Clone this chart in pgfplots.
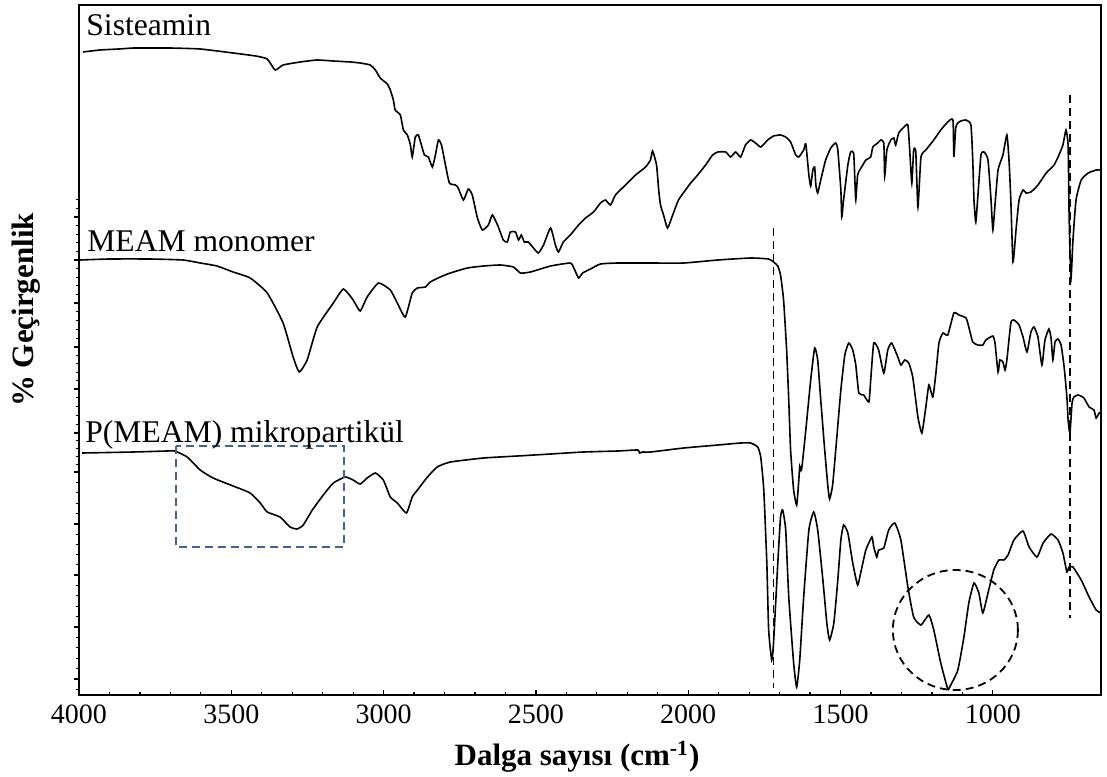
\documentclass[border=0pt]{standalone}
\usepackage{fontspec}
\setmainfont{Liberation Serif}
\usepackage{pgfplots}
\pgfplotsset{compat=1.18}
\definecolor{boxblue}{RGB}{65,100,150}
\tikzset{
  spectrum/.style={black, line width=0.8pt, smooth, tension=0.3},
  refmark/.style={line width=0.9pt, dash pattern=on 4pt off 2.5pt},
}

\begin{document}
\begin{tikzpicture}
\path[use as bounding box] (-39.5pt,-40.5pt) rectangle (514pt,347.5pt);
\begin{axis}[
  at={(0pt,0pt)}, anchor=south west,
  scale only axis, width=511pt, height=345pt,
  x dir=reverse, xmin=645, xmax=4000,
  y dir=reverse, ymin=5, ymax=695,
  xtick={1000,1500,2000,2500,3000,3500,4000},
  xticklabels={1000,1500,2000,2500,3000,3500,4000},
  minor x tick num=4,
  ytick={217,260,303,347,389,433,472,524,575,627,679},
  yticklabels={},
  minor ytick={199.8,208.4,225.6,234.2,242.8,251.4,268.6,277.2,285.8,294.4,
    311.8,320.6,329.4,338.2,355.4,363.8,372.2,380.6,397.8,406.6,415.4,424.2,
    440.8,448.6,456.4,464.2,482.4,492.8,503.2,513.6,534.2,544.4,554.6,564.8,
    585.4,595.8,606.2,616.6,637.4,647.8,658.2,668.6,689.4},
  tick pos=left, tick align=inside,
  major tick length=2.5pt, minor tick length=1.5pt,
  major y tick style={xshift=-2.5pt},
  minor y tick style={xshift=-1.5pt},
  every tick/.style={black, line width=0.6pt},
  axis line style={black, line width=1pt},
  xticklabel style={font=\fontsize{14}{16}\selectfont, yshift=-1.5pt},
]

% Sisteamin
\addplot[spectrum] coordinates {
(3987,52) (3931,50) (3870,49) (3820,48) (3760,48) (3701,48) (3602,49) (3494,53)
(3420,56) (3382,59) (3356,70) (3330,65) (3274,62) (3218,60) (3165,61) (3109,62)
(3077,63) (3044,65) (3027,70) (3011,78) (2988,84) (2978,90) (2968,100) (2962,110)
(2945,115) (2935,130) (2922,135) (2912,145) (2906,157) (2896,137) (2886,135)
(2876,145) (2866,155) (2853,157) (2840,167) (2830,155) (2820,140) (2810,145)
(2797,165) (2784,183) (2764,185) (2755,188) (2738,200) (2722,189) (2709,195)
(2692,218) (2676,230) (2656,225) (2643,215) (2626,225) (2607,240) (2594,242)
(2584,232) (2567,232) (2557,240) (2548,235) (2538,242) (2525,242) (2508,248)
(2492,253) (2475,245) (2452,228) (2436,245) (2426,252) (2410,242) (2387,235)
(2360,225) (2337,218) (2311,212) (2288,203) (2272,200) (2255,205) (2239,195)
(2206,185) (2173,175) (2140,167) (2124,160) (2117,151) (2104,165) (2097,190)
(2091,205) (2081,215) (2068,228) (2051,215) (2032,200) (2009,190) (1992,183)
(1969,175) (1943,165) (1920,155) (1903,152) (1877,152) (1861,157) (1844,152)
(1828,157) (1812,145) (1795,140) (1779,143) (1762,147) (1739,140) (1720,136)
(1697,135) (1680,137) (1664,142) (1647,155) (1637,157) (1621,150) (1614,144)
(1604,175) (1598,186) (1591,170) (1585,167) (1581,185) (1575,193) (1565,180)
(1549,160) (1532,148) (1516,143) (1509,150) (1499,190) (1496,217) (1490,200)
(1476,165) (1467,152) (1457,153) (1453,180) (1450,200) (1444,175) (1437,170)
(1427,165) (1417,160) (1401,157) (1394,147) (1378,143) (1368,140) (1358,143)
(1355,176) (1348,150) (1335,140) (1325,138) (1319,145) (1309,133) (1292,127)
(1279,125) (1273,150) (1266,183) (1260,150) (1253,152) (1246,207) (1236,157)
(1220,150) (1194,140) (1171,130) (1148,122) (1131,120) (1128,157) (1122,128)
(1115,123) (1105,121) (1088,120) (1072,125) (1066,160) (1062,200) (1056,222)
(1049,195) (1039,155) (1029,152) (1016,160) (1006,200) (1000,230) (993,205)
(983,170) (967,155) (954,135) (947,160) (941,200) (934,262) (924,230) (914,200)
(901,190) (891,193) (875,192) (852,185) (825,173) (799,165) (783,155) (770,145)
(760,130) (753,145) (750,210) (747,250) (743,277) (737,240) (727,200) (710,180)
(687,173) (661,170) (645,170)
};

% MEAM monomer
\addplot[spectrum] coordinates {
(3997,260) (3900,259) (3767,259) (3658,260) (3602,263) (3547,266) (3494,272)
(3438,278) (3382,293) (3330,323) (3297,357) (3277,372) (3251,360) (3218,327)
(3165,303) (3132,289) (3100,300) (3077,311) (3054,297) (3017,283) (2978,290)
(2955,303) (2929,317) (2906,293) (2889,288) (2863,287) (2847,282) (2814,277)
(2781,273) (2725,268) (2672,266) (2617,265) (2574,267) (2551,273) (2518,272)
(2452,266) (2387,263) (2377,267) (2360,278) (2347,273) (2321,269) (2288,264)
(2232,263) (2124,263) (2015,263) (1903,260) (1795,258) (1736,259) (1720,262)
(1706,266) (1697,275) (1687,300) (1677,350) (1670,400) (1664,450) (1654,490)
(1644,505) (1637,480) (1634,466) (1628,470) (1614,430) (1598,380) (1585,348)
(1575,360) (1565,400) (1552,450) (1542,485) (1536,499) (1526,485) (1513,440)
(1499,390) (1486,355) (1473,343) (1460,350) (1450,365) (1440,393) (1424,395)
(1407,402) (1401,380) (1391,343) (1375,350) (1358,373) (1345,350) (1332,343)
(1312,357) (1302,365) (1289,360) (1276,363) (1263,377) (1246,417) (1233,433)
(1220,407) (1210,385) (1197,397) (1187,373) (1177,343) (1164,333) (1148,335)
(1128,313) (1111,315) (1088,318) (1079,327) (1066,342) (1049,345) (1033,345)
(1023,340) (1000,336) (993,343) (983,372) (977,360) (967,362) (960,370)
(954,360) (941,323) (931,320) (914,325) (901,337) (888,352) (875,332) (865,327)
(852,337) (839,365) (829,340) (816,329) (809,338) (803,360) (796,342) (786,339)
(776,345) (766,367) (757,397) (753,420) (747,433) (740,403) (734,397) (720,395)
(701,398) (684,407) (668,410) (661,418) (651,413) (645,412)
};

% P(MEAM) mikropartikul
\addplot[spectrum] coordinates {
(3990,453) (3823,452) (3711,451) (3685,451) (3645,457) (3602,470) (3560,478)
(3494,486) (3438,493) (3405,503) (3382,512) (3340,517) (3307,527) (3284,529)
(3264,525) (3234,510) (3198,495) (3165,483) (3126,477) (3100,480) (3077,484)
(3054,478) (3027,473) (3001,480) (2978,497) (2955,503) (2925,513) (2906,497)
(2889,490) (2856,477) (2824,467) (2781,462) (2672,458) (2561,456) (2452,454)
(2344,452) (2232,451) (2166,450) (2160,453) (2150,452) (2124,452) (2015,448)
(1903,445) (1828,443) (1795,443) (1772,447) (1762,457) (1752,490) (1742,563)
(1736,630) (1726,660) (1720,643) (1706,563) (1697,517) (1690,510) (1680,530)
(1670,597) (1654,663) (1644,687) (1634,660) (1621,597) (1604,530) (1588,512)
(1575,530) (1558,580) (1545,623) (1536,640) (1522,623) (1509,580) (1499,540)
(1490,525) (1476,533) (1460,563) (1444,585) (1434,573) (1417,550) (1397,537)
(1391,547) (1381,557) (1375,550) (1358,548) (1342,530) (1322,523) (1302,540)
(1279,587) (1260,617) (1236,625) (1210,615) (1194,630) (1171,663) (1148,689)
(1140,686) (1115,670) (1095,637) (1079,603) (1062,583) (1046,593) (1033,613)
(1016,593) (997,570) (980,560) (964,560) (950,555) (931,540) (901,531)
(881,547) (855,557) (835,543) (809,534) (786,540) (770,553) (757,572)
(750,567) (737,567) (710,580) (684,597) (661,610) (645,613)
};

% reference lines and highlighted regions
\draw[black, refmark] (axis cs:1720,228) -- (axis cs:1720,688);
\draw[black, refmark] (axis cs:747,95) -- (axis cs:747,618);
\draw[boxblue, refmark] (axis cs:3681,446) rectangle (axis cs:3129,547);
\draw[black, refmark] (axis cs:1123,630) ellipse [x radius=31.25pt, y radius=30pt];
\end{axis}

\node[anchor=base west, font=\fontsize{15.8}{18}\selectfont, inner sep=0pt]
  at (3.5pt,329.5pt) {Sisteamin};
\node[anchor=base west, font=\fontsize{15.8}{18}\selectfont, inner sep=0pt]
  at (4pt,221.5pt) {MEAM monomer};
\node[anchor=base west, font=\fontsize{15.8}{18}\selectfont, inner sep=0pt]
  at (3pt,126pt) {P(MEAM) mikropartikül};

\node[rotate=90, font=\bfseries\fontsize{15.5}{18}\selectfont]
  at (-26.5pt,192.5pt) {\% Geçirgenlik};
\node[font=\bfseries\fontsize{15.5}{18}\selectfont]
  at (249pt,-31pt) {Dalga sayısı (cm\textsuperscript{-1})};
\end{tikzpicture}
\end{document}
